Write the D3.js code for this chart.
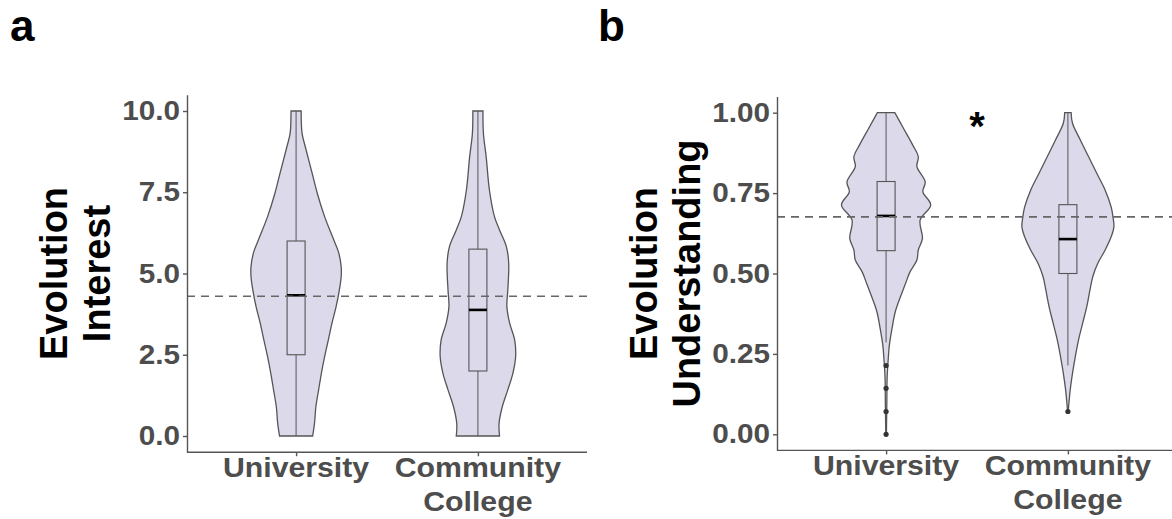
<!DOCTYPE html>
<html>
<head>
<meta charset="utf-8">
<script src="https://cdn.jsdelivr.net/npm/d3@7"></script>
<style>
  body { margin: 0; background: #fff; }
  svg { display: block; font-family: "Liberation Sans", Arial, Helvetica, sans-serif; font-weight: bold; }
  .ytick text { fill: #4d4d4d; font-size: 27px; transform-box: fill-box; transform-origin: 100% 50%; transform: scaleX(1.1); }
  .xlab { fill: #4d4d4d; font-size: 28px; transform-box: fill-box; transform-origin: 50% 0; transform: scaleX(1.08); }
  .axis path, .axis line { stroke: #555; stroke-width: 1.4; }
</style>
</head>
<body>
<svg id="chart" width="1172" height="519"></svg>
<script>
// categories and labels
var categories = ["University", "Community College"];
var xTickLabels = [["University"], ["Community", "College"]];
var panelLetters = ["a", "b"];
var yTitles = [["Evolution", "Interest"], ["Evolution", "Understanding"]];
var interestTicks = [0, 2.5, 5, 7.5, 10];
var understandingTicks = [0, 0.25, 0.5, 0.75, 1];

// violin profiles: [value, relative density]
var interestUniversity = [[0,0.36],[0.39,0.40],[0.9,0.43],[1.42,0.49],[1.93,0.55],[2.44,0.62],[2.95,0.70],
  [3.47,0.78],[3.98,0.87],[4.49,0.94],[4.9,0.98],[5.21,0.98],[5.62,0.93],[6.03,0.82],[6.75,0.62],
  [7.47,0.46],[8.08,0.35],[8.9,0.20],[9.31,0.13],[10,0.11]];
var interestCommunity = [[0,0.47],[0.39,0.46],[0.9,0.53],[1.42,0.65],[1.93,0.76],[2.44,0.82],[2.95,0.80],
  [3.47,0.69],[3.98,0.63],[4.49,0.65],[5.31,0.67],[5.82,0.62],[6.34,0.47],[6.75,0.36],[7.57,0.25],
  [8.59,0.18],[9.31,0.12],[10,0.11]];
var understandingUniversity = [[0,0.007],[0.044,0.011],[0.107,0.017],[0.174,0.022],[0.226,0.043],[0.278,0.072],
  [0.330,0.13],[0.381,0.20],[0.423,0.30],[0.464,0.41],[0.505,0.52],[0.542,0.67],[0.573,0.70],[0.609,0.79],
  [0.666,0.74],[0.713,0.97],[0.754,0.80],[0.785,0.85],[0.832,0.67],[0.863,0.70],[0.899,0.58],[0.951,0.38],[1,0.19]];
var understandingCommunity = [[0.070,0.005],[0.086,0.015],[0.138,0.05],[0.190,0.10],[0.241,0.16],[0.293,0.23],
  [0.345,0.32],[0.397,0.41],[0.449,0.48],[0.490,0.54],[0.532,0.65],[0.573,0.81],[0.614,0.94],[0.645,1.0],
  [0.676,0.98],[0.707,0.94],[0.759,0.81],[0.811,0.63],[0.863,0.45],[0.915,0.27],[0.967,0.10],[1,0.07]];

// box statistics: [q1, median, q3], whiskers [low, high], outliers
var interestQuartiles = [[2.5, 4.33, 6.0], [2.0, 3.88, 5.75]];
var interestWhiskers = [[0, 10], [0, 10]];
var interestOutliers = [[], []];
var interestMean = 4.3;
var understandingQuartiles = [[0.571, 0.679, 0.786], [0.5, 0.607, 0.714]];
var understandingWhiskers = [[0.286, 1], [0.214, 1]];
var understandingOutliers = [[0.214, 0.143, 0.071, 0], [0.071]];
var understandingMean = 0.676;
var understandingStar = 1.0;

var panels = [
  { left: 187, right: 587, top: 94.75, bottom: 452.25, domain: [-0.5, 10.5], ticks: interestTicks, fmt: d3.format(".1f"),
    violins: [interestUniversity, interestCommunity], quart: interestQuartiles, whisk: interestWhiskers,
    outl: interestOutliers, mean: interestMean, star: null, letterX: 10 },
  { left: 777, right: 1177, top: 96.6, bottom: 450.4, domain: [-0.05, 1.05], ticks: understandingTicks, fmt: d3.format(".2f"),
    violins: [understandingUniversity, understandingCommunity], quart: understandingQuartiles, whisk: understandingWhiskers,
    outl: understandingOutliers, mean: understandingMean, star: understandingStar, letterX: 598 }
];

var svg = d3.select("#chart");
var violinFill = "#dcd9ea", lineCol = "#555";
var wScale = d3.scaleLinear().domain([0, 1]).range([0, 46]);
var boxHalf = 9;

panels.forEach(function(p, i) {
  var y = d3.scaleLinear().domain(p.domain).range([p.bottom, p.top]);
  var x = d3.scalePoint().domain(categories).range([p.left, p.right]).padding(0.6);
  var g = svg.append("g");

  // violins
  var area = d3.area()
    .y(function(d) { return y(d[0]); })
    .curve(d3.curveCatmullRom);
  p.violins.forEach(function(prof, k) {
    var cx = x(categories[k]);
    area.x0(function(d) { return cx - wScale(d[1]); }).x1(function(d) { return cx + wScale(d[1]); });
    g.append("path").attr("d", area(prof) + "Z")
      .attr("fill", violinFill).attr("stroke", lineCol).attr("stroke-width", 1.3);
  });

  // boxes
  categories.forEach(function(c, k) {
    var cx = x(c), q = p.quart[k], w = p.whisk[k];
    g.append("line").attr("x1", cx).attr("x2", cx).attr("y1", y(w[0])).attr("y2", y(q[0]))
      .attr("stroke", lineCol).attr("stroke-width", 1);
    g.append("line").attr("x1", cx).attr("x2", cx).attr("y1", y(q[2])).attr("y2", y(w[1]))
      .attr("stroke", lineCol).attr("stroke-width", 1);
    g.append("rect").attr("x", cx - boxHalf).attr("width", boxHalf * 2)
      .attr("y", y(q[2])).attr("height", y(q[0]) - y(q[2]))
      .attr("fill", "none").attr("stroke", lineCol).attr("stroke-width", 1.1);
    g.append("line").attr("x1", cx - boxHalf).attr("x2", cx + boxHalf).attr("y1", y(q[1])).attr("y2", y(q[1]))
      .attr("stroke", "#000").attr("stroke-width", 2.6);
    g.selectAll(null).data(p.outl[k]).enter().append("circle")
      .attr("cx", cx).attr("cy", function(d) { return y(d); }).attr("r", 2.6).attr("fill", "#333");
  });

  // mean line
  g.append("line").attr("x1", p.left).attr("x2", p.right).attr("y1", y(p.mean)).attr("y2", y(p.mean))
    .attr("stroke", "#666").attr("stroke-width", 1.6).attr("stroke-dasharray", "8,6");

  if (p.star != null) {
    g.append("text").attr("x", (x(categories[0]) + x(categories[1])) / 2).attr("y", y(p.star) + 27)
      .attr("text-anchor", "middle").attr("font-size", 40).attr("fill", "#000").text("*");
  }

  // axes
  var ya = svg.append("g").attr("class", "axis ytick").attr("transform", "translate(" + p.left + ",0)")
    .call(d3.axisLeft(y).tickValues(p.ticks).tickFormat(p.fmt).tickSize(4).tickPadding(3).tickSizeOuter(0));
  ya.selectAll("text").attr("font-family", null).attr("font-size", null);
  var xa = svg.append("g").attr("class", "axis").attr("transform", "translate(0," + p.bottom + ")")
    .call(d3.axisBottom(x).tickSize(4).tickSizeOuter(0).tickFormat(""));
  xa.select(".domain").attr("d", "M" + p.left + ",0H" + p.right);
  categories.forEach(function(c, k) {
    var t = svg.append("text").attr("class", "xlab").attr("text-anchor", "middle")
      .attr("x", x(c)).attr("y", p.bottom + 25);
    xTickLabels[k].forEach(function(s, j) {
      t.append("tspan").attr("x", x(c)).attr("dy", j === 0 ? 0 : 34).text(s);
    });
  });

  // y title
  var midY = (p.top + p.bottom) / 2;
  yTitles[i].forEach(function(s, j) {
    var bx = p.left - 120 + j * 43;
    svg.append("text").attr("transform", "translate(" + bx + "," + midY + ") rotate(-90)")
      .attr("text-anchor", "middle").attr("font-size", 38).attr("fill", "#000").text(s);
  });

  svg.append("text").attr("x", p.letterX).attr("y", 41).attr("font-size", 44).attr("fill", "#000").text(panelLetters[i]);
});
</script>
</body>
</html>
